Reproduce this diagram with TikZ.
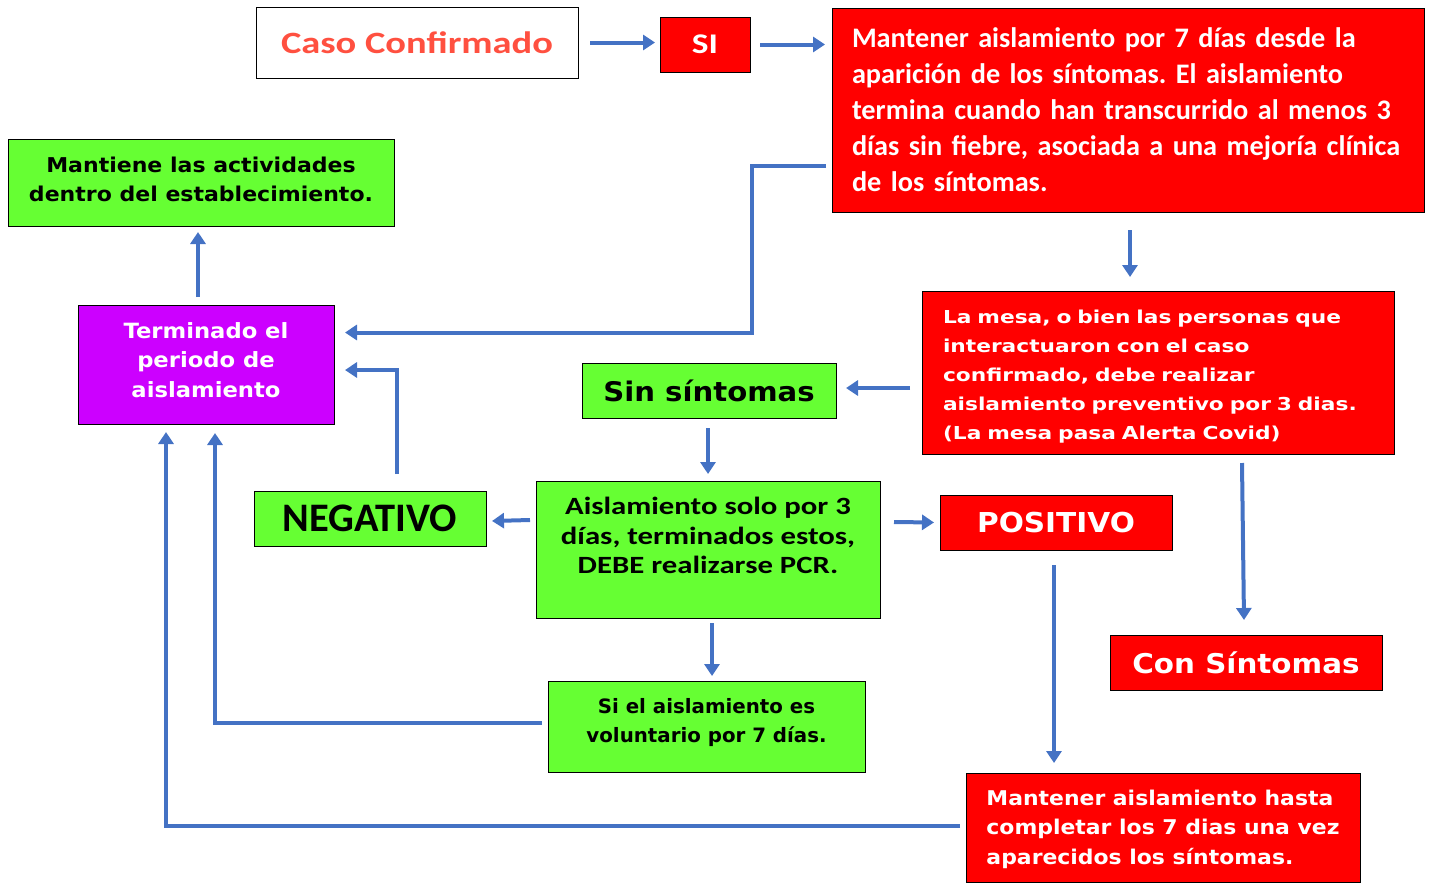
\documentclass[tikz,border=0pt]{standalone}
\usepackage{fontspec}
\usetikzlibrary{arrows.meta,calc}
\frenchspacing
\newfontfamily\calfnt{Carlito}
\newfontfamily\calwide{Carlito}[FakeStretch=1.24]
\newfontfamily\verfnt{DejaVu Sans}
\newfontfamily\verwide{DejaVu Sans}[FakeStretch=1.08]
\newfontfamily\vermesa{DejaVu Sans}[FakeStretch=1.22]
\definecolor{arrowblue}{HTML}{4472C4}
\definecolor{boxgreen}{HTML}{66FF33}
\definecolor{boxred}{HTML}{FF0000}
\definecolor{boxpurple}{HTML}{CC00FF}
\definecolor{casored}{HTML}{FF5040}
\tikzset{
  arr/.style={draw=arrowblue, line width=4pt, -{Triangle[length=12pt,width=15pt]}},
  box/.style={draw=black, line width=0.9pt, inner sep=0pt, outer sep=0pt},
  greenbox/.style={box, fill=boxgreen, text=black},
  redbox/.style={box, fill=boxred, text=white},
}
\begin{document}
\begin{tikzpicture}[x=1pt,y=-1pt]
\useasboundingbox (0,0) rectangle (1430,884);

\node[box, fill=white, text=casored, minimum width=322pt, minimum height=71pt,
  font=\calwide\bfseries\fontsize{31}{36}\selectfont] (caso) at (417,42.5) {Caso Confirmado};
\node[redbox, minimum width=90pt, minimum height=55pt,
  font=\calwide\bfseries\fontsize{28.5}{34}\selectfont] (si) at (705,44.5) {SI};
\node[redbox, minimum width=592pt, minimum height=204pt, inner xsep=20pt, text width=552pt, align=left,
  font=\calfnt\bfseries\fontsize{28.3}{36}\selectfont] (top) at (1128,110)
  {Mantener aislamiento por 7 días desde la\\aparición de los síntomas. El aislamiento\\termina cuando han transcurrido al menos 3\\días sin fiebre, asociada a una mejoría clínica\\de los síntomas.};
\node[greenbox, minimum width=386pt, minimum height=87pt, align=center, text depth=6pt,
  font=\verwide\bfseries\fontsize{20.4}{29}\selectfont] (mant) at (201,182.5)
  {Mantiene las actividades\\dentro del establecimiento.};
\node[box, fill=boxpurple, text=white, minimum width=256pt, minimum height=119pt, align=center, text depth=9pt,
  font=\verwide\bfseries\fontsize{21}{29.5}\selectfont] (term) at (206,364.5)
  {Terminado el\\periodo de\\aislamiento};
\node[redbox, minimum width=472pt, minimum height=163pt, inner xsep=21pt, text width=430pt, align=left,
  text height=22pt,
  font=\vermesa\bfseries\fontsize{17.8}{29}\selectfont] (mesa) at (1158,372.5)
  {La mesa, o bien las personas que\\interactuaron con el caso\\confirmado, debe realizar\\aislamiento preventivo por 3 dias.\\(La mesa pasa Alerta Covid)};
\node[greenbox, minimum width=254pt, minimum height=55pt,
  font=\verwide\bfseries\fontsize{27}{32}\selectfont] (sin) at (709,390.5) {Sin síntomas};
\node[greenbox, minimum width=232pt, minimum height=55pt,
  font=\calfnt\bfseries\fontsize{40.5}{46}\selectfont] (neg) at (370,518.5) {NEGATIVO};
\node[greenbox, minimum width=344pt, minimum height=137pt, align=center, text depth=28pt,
  font=\calwide\bfseries\fontsize{24.8}{29.5}\selectfont] (ais) at (708,549.5)
  {Aislamiento solo por 3\\días, terminados estos,\\DEBE realizarse PCR.};
\node[redbox, minimum width=232pt, minimum height=55pt,
  font=\verwide\bfseries\fontsize{27.4}{32}\selectfont] (pos) at (1056,522.5) {POSITIVO};
\node[redbox, minimum width=272pt, minimum height=55pt,
  font=\verwide\bfseries\fontsize{27.2}{32}\selectfont] (con) at (1246,662.5) {Con Síntomas};
\node[greenbox, minimum width=317pt, minimum height=91pt, align=center, text depth=12pt,
  font=\verfnt\bfseries\fontsize{19.8}{29}\selectfont] (vol) at (706.5,726.5)
  {Si el aislamiento es\\voluntario por 7 días.};
\node[redbox, minimum width=394pt, minimum height=109pt, align=left, text depth=1pt,
  font=\verwide\bfseries\fontsize{20.3}{29.5}\selectfont] (hasta) at (1163,827.5)
  {Mantener aislamiento hasta\\completar los 7 dias una vez\\aparecidos los síntomas.};

% connectors
\draw[arr, shorten <=12pt, shorten >=5pt] (caso.east) -- (caso.east -| si.west);
\draw[arr, shorten <=10pt, shorten >=7pt] (si.east) -- (si.east -| top.west);
\draw[arr] ($(top.west)+(-6,56)$) -| ($(term.east)+(418,-32)$) -- ($(term.east)+(11,-32)$);
\draw[arr] ($(term.north)+(-8,-8)$) -- ($(mant.south)+(-3,6)$);
\draw[arr] ($(neg.north)+(27,-17)$) |- ($(term.east)+(11,5.5)$);
\draw[arr] ($(top.south)+(2,18)$) -- ($(mesa.north)+(-28,-14)$);
\draw[arr] ($(mesa.west)+(-12,15.5)$) -- ($(sin.east)+(10,-2.5)$);
\draw[arr] ($(sin.south)+(-1,10)$) -- ($(ais.north)+(0,-7)$);
\draw[arr] ($(ais.west)+(-6,-29.5)$) -- ($(neg.east)+(6,2.5)$);
\draw[arr] ($(ais.east)+(14,-27.5)$) -- ($(pos.west)+(-6,0)$);
\draw[arr] ($(mesa.south)+(84,9)$) -- ($(con.north)+(-2,-15)$);
\draw[arr] ($(ais.south)+(4,5)$) -- ($(vol.north)+(5.5,-5)$);
\draw[arr] ($(vol.west)+(-6,-3.5)$) -| ($(term.south)+(9,9)$);
\draw[arr] ($(pos.south)+(-2,15)$) -- ($(hasta.north)+(-109,-10)$);
\draw[arr] ($(hasta.west)+(-6,-1.5)$) -| ($(term.south)+(-40,8)$);
\end{tikzpicture}
\end{document}
